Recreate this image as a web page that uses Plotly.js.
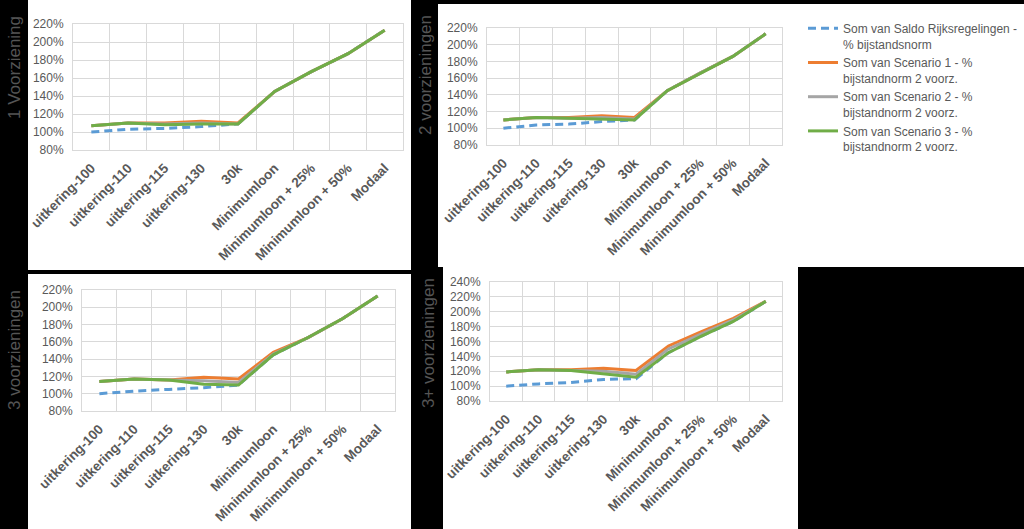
<!DOCTYPE html>
<html>
<head>
<meta charset="utf-8">
<script src="https://cdn.plot.ly/plotly-3.0.1.min.js"></script>
<style>
  html, body { margin: 0; padding: 0; background: #000; }
  #chart { width: 1024px; height: 529px; }
</style>
</head>
<body>
<div id="chart"></div>
<script>
// ---------- DATA ----------
const categories = ["uitkering-100", "uitkering-110", "uitkering-115", "uitkering-130", "30k",
                    "Minimumloon", "Minimumloon + 25%", "Minimumloon + 50%", "Modaal"];

const seriesNames = [
  "Som van Saldo Rijksregelingen -<br>% bijstandsnorm",
  "Som van Scenario 1 - %<br>bijstandnorm 2 voorz.",
  "Som van Scenario 2 - %<br>bijstandnorm 2 voorz.",
  "Som van Scenario 3 - %<br>bijstandnorm 2 voorz."
];

const panelTitles = ["1 Voorziening", "2 voorzieningen", "3 voorzieningen", "3+ voorzieningen"];

// 1 voorziening
const p1_saldo = [100, 103, 104, 106, 109, 145, 167, 187, 213];
const p1_sc1   = [107, 110, 110, 112, 110, 145, 167, 187, 213];
const p1_sc2   = [107, 110, 109, 110, 109, 145, 167, 187, 213];
const p1_sc3   = [107, 110, 108, 109, 109, 145, 167, 187, 213];
// 2 voorzieningen
const p2_saldo = [100, 104, 105, 108, 110, 145, 166, 186, 213];
const p2_sc1   = [110, 113, 113, 115, 113, 145, 166, 186, 213];
const p2_sc2   = [110, 113, 112, 113, 111, 145, 166, 186, 213];
const p2_sc3   = [110, 113, 112, 111, 110, 145, 166, 186, 213];
// 3 voorzieningen
const p3_saldo = [100, 103, 105, 107, 110, 145, 165, 187, 213];
const p3_sc1   = [114, 117, 116, 119, 117, 148, 165, 187, 213];
const p3_sc2   = [114, 117, 116, 115, 113, 146, 165, 187, 213];
const p3_sc3   = [114, 117, 116, 111, 110, 145, 165, 187, 213];
// 3+ voorzieningen
const p4_saldo = [100, 103, 105, 109, 110, 145, 167, 187, 214];
const p4_sc1   = [119, 122, 122, 124, 121, 154, 173, 191, 214];
const p4_sc2   = [119, 122, 121, 120, 116, 150, 170, 189, 214];
const p4_sc3   = [119, 122, 121, 116, 112, 145, 167, 187, 214];

const yRanges = [[80, 220], [80, 220], [80, 220], [80, 240]];

// ---------- STYLE / LAYOUT ----------
const W = 1024, H = 529;
const colors = ["#5B9BD5", "#ED7D31", "#A5A5A5", "#70AD47"];
const dashes = ["8px,5px", "solid", "solid", "solid"];
const fx = px => px / W;
const fy = py => 1 - py / H;

const panels = [
  [p1_saldo, p1_sc1, p1_sc2, p1_sc3],
  [p2_saldo, p2_sc1, p2_sc2, p2_sc3],
  [p3_saldo, p3_sc1, p3_sc2, p3_sc3],
  [p4_saldo, p4_sc1, p4_sc2, p4_sc3]
];

// plot areas in pixels: [left, right, top, bottom]
const areas = [
  [73, 403, 24, 150],
  [487, 782, 28, 145],
  [82, 395, 290, 411],
  [490, 782, 282, 401]
];
// white backgrounds in pixels: [x0, x1, y0, y1]
const whites = [
  [28, 411, 0, 270],
  [438, 1024, 4, 267],
  [28, 411, 274, 529],
  [443, 798, 267, 529]
];
// strip label centres in pixels
const titlePos = [[14, 68], [425, 75], [14, 350], [428, 343]];

const traces = [];
panels.forEach((series, p) => {
  series.forEach((vals, s) => {
    traces.push({
      type: "scatter", mode: "lines",
      x: categories, y: vals,
      name: seriesNames[s],
      legendgroup: "s" + s,
      showlegend: p === 0,
      line: { color: colors[s], width: 3, dash: dashes[s] },
      xaxis: "x" + (p === 0 ? "" : p + 1),
      yaxis: "y" + (p === 0 ? "" : p + 1),
      hoverinfo: "skip"
    });
  });
});

const layout = {
  width: W, height: H,
  margin: { l: 0, r: 0, t: 0, b: 0 },
  paper_bgcolor: "#000000",
  plot_bgcolor: "#FFFFFF",
  font: { family: "Liberation Sans, Arial, sans-serif", color: "#595959", size: 12 },
  showlegend: true,
  legend: {
    x: fx(803), y: fy(14), xanchor: "left", yanchor: "top",
    bgcolor: "rgba(0,0,0,0)",
    font: { size: 12, color: "#595959", family: "Liberation Sans, Arial, sans-serif" },
    valign: "top",
    tracegroupgap: 0,
    itemclick: false, itemdoubleclick: false
  },
  shapes: [],
  annotations: []
};

whites.forEach(r => {
  layout.shapes.push({
    type: "rect", xref: "paper", yref: "paper", layer: "below",
    x0: fx(r[0]), x1: fx(r[1]), y0: fy(r[3]), y1: fy(r[2]),
    fillcolor: "#FFFFFF", line: { width: 0 }
  });
});

areas.forEach((a, p) => {
  const xk = "xaxis" + (p === 0 ? "" : p + 1);
  const yk = "yaxis" + (p === 0 ? "" : p + 1);
  const yid = "y" + (p === 0 ? "" : p + 1);
  const xid = "x" + (p === 0 ? "" : p + 1);
  layout[xk] = {
    domain: [fx(a[0]), fx(a[1])],
    anchor: yid,
    type: "category",
    categoryorder: "array", categoryarray: categories,
    range: [-0.5, 8.5],
    tickson: "boundaries",
    ticks: "",
    ticklabelstandoff: 4,
    showgrid: true, gridcolor: "#D9D9D9", gridwidth: 1,
    showline: true, linecolor: "#D9D9D9", linewidth: 1, mirror: true,
    tickangle: -45,
    tickfont: { size: 13.5, color: "#595959", family: "Liberation Sans, Arial, sans-serif", weight: "bold" },
    fixedrange: true
  };
  layout[yk] = {
    domain: [fy(a[3]), fy(a[2])],
    anchor: xid,
    range: yRanges[p],
    dtick: 20, tick0: 0,
    ticksuffix: "%",
    ticks: "",
    ticklabelstandoff: 6,
    showgrid: true, gridcolor: "#D9D9D9", gridwidth: 1,
    zeroline: false,
    showline: true, linecolor: "#D9D9D9", linewidth: 1, mirror: true,
    tickfont: { size: 12, color: "#595959", family: "Liberation Sans, Arial, sans-serif" },
    fixedrange: true
  };
});

panelTitles.forEach((t, p) => {
  layout.annotations.push({
    xref: "paper", yref: "paper",
    x: fx(titlePos[p][0]), y: fy(titlePos[p][1]),
    xanchor: "center", yanchor: "middle",
    text: t, textangle: -90, showarrow: false,
    font: { size: 17, color: "#555555", family: "Liberation Sans, Arial, sans-serif" }
  });
});

Plotly.newPlot("chart", traces, layout, { displayModeBar: false, staticPlot: true });
</script>
</body>
</html>
